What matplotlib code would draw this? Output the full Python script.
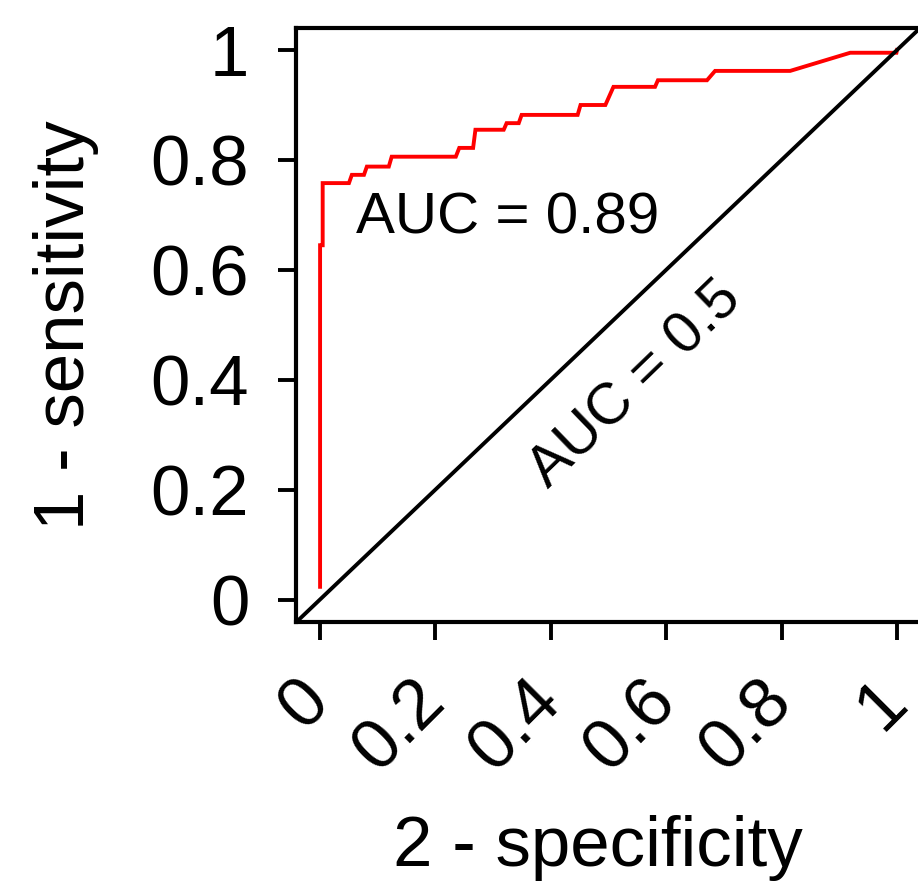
import matplotlib
matplotlib.use("Agg")
import matplotlib.pyplot as plt

plt.rcParams['font.family'] = ['Liberation Sans', 'DejaVu Sans']

# ROC curve
fpr = [0.001, 0.001, 0.0055, 0.0055, 0.051, 0.056, 0.077, 0.082, 0.120, 0.125,
       0.236, 0.242, 0.266, 0.270, 0.319, 0.324, 0.345, 0.350, 0.447, 0.452,
       0.495, 0.509, 0.581, 0.586, 0.671, 0.685, 0.815, 0.919, 0.999, 1.0]
tpr = [0.024, 0.645, 0.645, 0.758, 0.758, 0.773, 0.773, 0.788, 0.788, 0.806,
       0.806, 0.822, 0.822, 0.855, 0.855, 0.867, 0.867, 0.882, 0.882, 0.900,
       0.900, 0.933, 0.933, 0.945, 0.945, 0.962, 0.962, 0.995, 0.995, 1.0]
ticks = [0, 0.2, 0.4, 0.6, 0.8, 1]
tick_labels = ['0', '0.2', '0.4', '0.6', '0.8', '1']
auc_text = 'AUC = 0.89'
chance_text = 'AUC = 0.5'

fig = plt.figure(figsize=(9.18, 8.82), dpi=100)
ax = fig.add_axes([296.4 / 918, 260 / 882, 623.7 / 918, 594 / 882])

ax.plot(fpr, tpr, color='#ff0000', lw=2.8, solid_joinstyle='miter')
ax.axline((0, 0), (1, 1), color='black', lw=2.8)

ax.set_xlim(-0.04, 1.04)
ax.set_ylim(-0.04, 1.04)
ax.set_xticks(ticks)
ax.set_xticklabels(tick_labels, rotation=45, ha='right', va='center',
                   rotation_mode='anchor')
ax.set_yticks(ticks)
ax.set_yticklabels(tick_labels)
ax.tick_params(axis='both', labelsize=51, length=13, width=2.8, direction='out')
ax.tick_params(axis='y', pad=21)
ax.tick_params(axis='x', pad=37)
for s in ax.spines.values():
    s.set_linewidth(3)

ax.text(0.064, 0.667, auc_text, fontsize=42, ha='left', va='baseline')
ax.text(0.548, 0.391, chance_text, fontsize=42, ha='center', va='center',
        rotation=44)

ax.set_xlabel('2 - specificity', fontsize=51, va='center')
ax.xaxis.set_label_coords(598 / 918, 1 - 848 / 882, transform=fig.transFigure)
ax.set_ylabel('1 - sensitivity', fontsize=51, va='center')
ax.yaxis.set_label_coords(66 / 918, 1 - 325 / 882, transform=fig.transFigure)

fig.savefig('out.png', dpi=100)
